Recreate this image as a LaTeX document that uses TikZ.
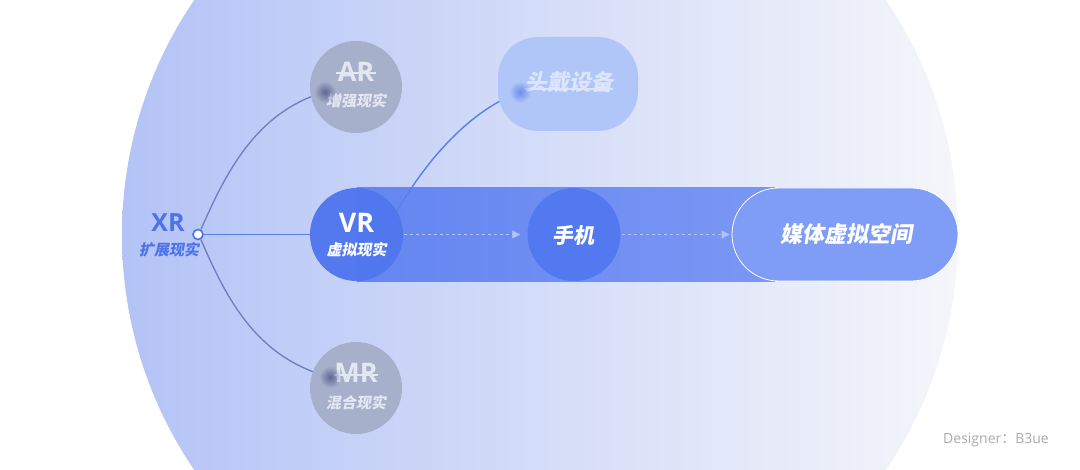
\documentclass[tikz,border=0pt]{standalone}
\usepackage{fontspec}
\usetikzlibrary{arrows.meta,fadings}
\newfontfamily\cjk{Noto Sans CJK SC}[FakeSlant=0.18]
\newfontfamily\cjkup{Noto Sans CJK SC}
\newfontfamily\lat{Open Sans}
\newfontfamily\latb{Open Sans}[UprightFont={* Bold}]
\definecolor{bgL}{HTML}{B3C3F6}
\definecolor{bgR}{HTML}{F5F6FA}
\definecolor{xrblue}{HTML}{4C73EC}
\definecolor{linkgray}{HTML}{6E7DBE}
\definecolor{linkblue}{HTML}{5A7EEA}
\definecolor{graycirc}{HTML}{A7B0CB}
\definecolor{graytext}{HTML}{E3E7F1}
\definecolor{hsfill}{HTML}{B1C6F8}
\definecolor{hstext}{HTML}{DCE5FB}
\definecolor{bandL}{HTML}{6485F0}
\definecolor{bandR}{HTML}{7B97F5}
\definecolor{vrfill}{HTML}{5177EF}
\definecolor{phonefill}{HTML}{5379F1}
\definecolor{mediafill}{HTML}{7F9DF6}
\definecolor{dashc}{HTML}{AFC2FA}
\definecolor{signc}{HTML}{ABABAB}
\tikzfading[name=glowfade, inner color=transparent!20, outer color=transparent!100]
\pgfdeclarelayer{bglayer}
\pgfdeclarelayer{linelayer}
\pgfsetlayers{bglayer,linelayer,main}
\begin{document}
\begin{tikzpicture}[x=1pt,y=-1pt,
  graybubble/.style={circle, fill=graycirc, minimum size=92pt, inner sep=0pt},
  bluebubble/.style={circle, minimum size=93pt, inner sep=0pt},
  bigtxt/.style={font=\latb\fontsize{27}{27}\selectfont, inner sep=0pt},
  subtxt/.style={font=\cjk\bfseries\fontsize{15}{15}\selectfont, inner sep=0pt},
  hubdot/.style={circle, draw=xrblue, fill=white, line width=1.6pt, minimum size=10pt, inner sep=0pt},
  graylink/.style={draw=linkgray, line width=1.3pt},
  bluelink/.style={draw=linkblue, line width=1.4pt},
  flow/.style={draw=dashc, line width=0.9pt, dash pattern=on 3pt off 3pt, -{Triangle[length=8pt,width=8pt]}},
  strike/.style={line width=1.2pt},
  glow/.style={path fading=glowfade}
]
\clip (0,0) rectangle (1080,470);
\begin{pgfonlayer}{bglayer}
  \fill[white] (0,0) rectangle (1080,470);
  \shade[left color=bgL, right color=bgR] (540,235) circle (418pt);
\end{pgfonlayer}

% XR hub
\node[bigtxt, text=xrblue, font=\latb\fontsize{25}{25}\selectfont] (xrt) at (168,223) {XR};
\node[subtxt, text=xrblue] (xrs) at (169,250) {扩展现实};
\node[hubdot] (hub) at (198,234.5) {};

% AR / MR
\node[graybubble] (ar) at (356,87) {};
\node[graybubble] (mr) at (356,388) {};
\node[bigtxt, text=graytext] (art) at ([yshift=15pt]ar.center) {AR};
\node[subtxt, text=graytext] (ars) at ([yshift=-14pt]ar.center) {增强现实};
\node[bigtxt, text=graytext] (mrt) at ([yshift=15pt]mr.center) {MR};
\node[subtxt, text=graytext] (mrs) at ([yshift=-15pt]mr.center) {混合现实};
\draw[strike, graytext] ([xshift=-20pt,yshift=-1pt]art.center) -- ([xshift=20pt,yshift=-1pt]art.center);
\draw[strike, graytext] ([xshift=-22pt,yshift=-2pt]mrt.center) -- ([xshift=22pt,yshift=-2pt]mrt.center);

% headset
\node[fill=hsfill, rounded corners=40pt, minimum width=140pt, minimum height=94pt, inner sep=0pt] (hs) at (568,84) {};
\node[font=\cjk\bfseries\fontsize{22}{22}\selectfont, text=hstext, inner sep=0pt] (hst) at (569,82) {头戴设备};
\draw[strike, hstext] ([xshift=-44pt,yshift=-7pt]hst.center) -- ([xshift=44pt,yshift=-7pt]hst.center);

% glow spots
\coordinate (arspot) at (325,92);
\coordinate (mrspot) at (330,377);
\coordinate (hsspot) at (520,92);
\fill[linkgray!70!black, glow] (arspot) circle (11pt);
\fill[linkgray!70!black, glow] (mrspot) circle (11pt);
\fill[linkblue, glow] (hsspot) circle (11pt);

% VR, phone, media
\node[bluebubble, fill=vrfill, fill opacity=0.97] (vr) at (356.5,234.5) {};
\node[bigtxt, text=white] (vrt) at ([yshift=11.5pt]vr.center) {VR};
\node[subtxt, text=white] (vrs) at ([yshift=-15.5pt]vr.center) {虚拟现实};
\node[bluebubble, fill=phonefill] (phone) at (574,234.5) {};
\node[font=\cjk\bfseries\fontsize{21}{21}\selectfont, text=white, inner sep=0pt] (phonet) at (573,235) {手机};
\node[fill=mediafill, draw=white, line width=0.8pt, rounded corners=46.5pt, minimum width=226pt, minimum height=93pt, inner sep=0pt] (media) at (845,234.5) {};
\node[font=\cjk\bfseries\fontsize{22}{22}\selectfont, text=white, inner sep=0pt] (mediat) at (846,234) {媒体虚拟空间};

% signature
\node[font=\lat\fontsize{14}{14}\selectfont, text=signc, inner sep=0pt, anchor=west] (sign) at (943,440) {Designer{\cjkup ：}B3ue};

% band and connectors
\coordinate (bandend) at (775,281.5);
\begin{pgfonlayer}{linelayer}
  \shade[left color=bandL, right color=bandR] (vr.north) rectangle (bandend);
  \draw[graylink] (hub.60) .. controls (225,175) and (255,112) .. (arspot);
  \draw[graylink] (hub.-60) .. controls (225,295) and (255,358) .. (mrspot);
  \draw[bluelink] (hub.east) -- (vr.west);
  \draw[bluelink] (vr.30) .. controls (422,168) and (465,112) .. (hsspot);
  \draw[flow, shorten <=1pt, shorten >=7pt] (vr.east) -- (phone.west);
  \draw[flow, shorten <=1pt, shorten >=2pt] (phone.east) -- (media.west);
\end{pgfonlayer}
\end{tikzpicture}
\end{document}
